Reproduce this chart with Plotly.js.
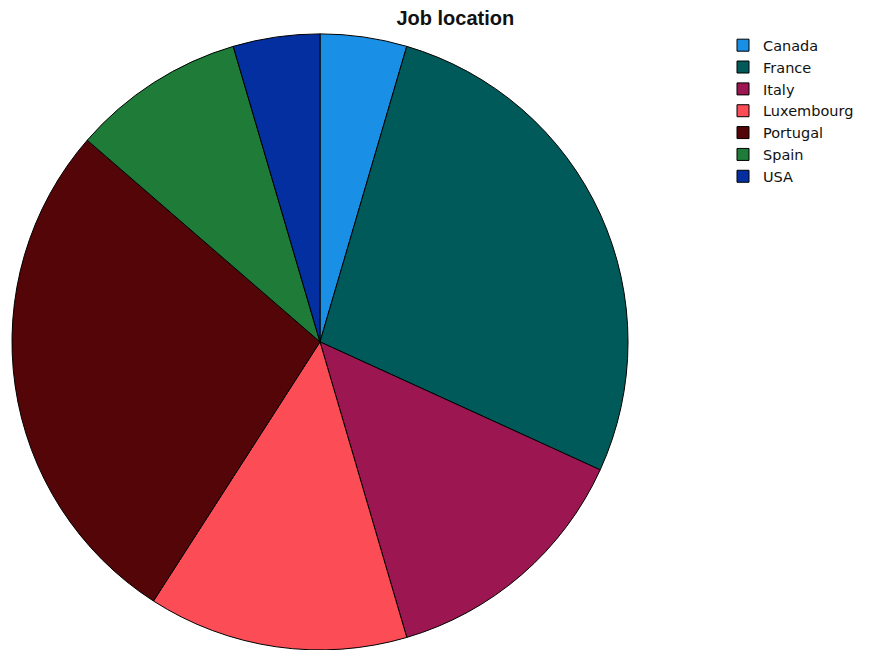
<!DOCTYPE html>
<html>
<head>
<meta charset="utf-8">
<script src="https://cdn.plot.ly/plotly-3.0.1.min.js"></script>
<style>html,body{margin:0;padding:0;background:#fff}#chart{width:869px;height:650px}</style>
</head>
<body>
<div id="chart"></div>
<script>
const categories = ["Canada", "France", "Italy", "Luxembourg", "Portugal", "Spain", "USA"];
const counts = [1, 6, 3, 3, 6, 2, 1];
const colors = ["#1a8fe6", "#005a5a", "#9c1651", "#fc4d56", "#540508", "#1e7b38", "#042fa0"];

const trace = {
  type: "pie",
  labels: categories,
  values: counts,
  sort: false,
  direction: "clockwise",
  rotation: 0,
  textinfo: "none",
  marker: { colors: colors, line: { color: "#000000", width: 1 } },
  domain: { x: [0.0138, 0.7227], y: [0.0, 0.948] },
  hoverinfo: "label+value+percent"
};

const layout = {
  width: 869,
  height: 650,
  margin: { l: 0, r: 0, t: 0, b: 0 },
  paper_bgcolor: "#ffffff",
  title: {
    text: "<b>Job location</b>",
    font: { family: "Liberation Sans, Arial, sans-serif", size: 20, color: "#111111" },
    x: 0.524, xanchor: "center",
    y: 0.972, yanchor: "middle"
  },
  showlegend: true,
  legend: {
    x: 0.832, y: 0.955, xanchor: "left", yanchor: "top",
    font: { family: "DejaVu Sans, sans-serif", size: 14.5, color: "#111111" },
    itemwidth: 30,
    tracegroupgap: 0,
    bgcolor: "rgba(0,0,0,0)"
  }
};

Plotly.newPlot("chart", [trace], layout, { displayModeBar: false, staticPlot: true });
</script>
</body>
</html>
